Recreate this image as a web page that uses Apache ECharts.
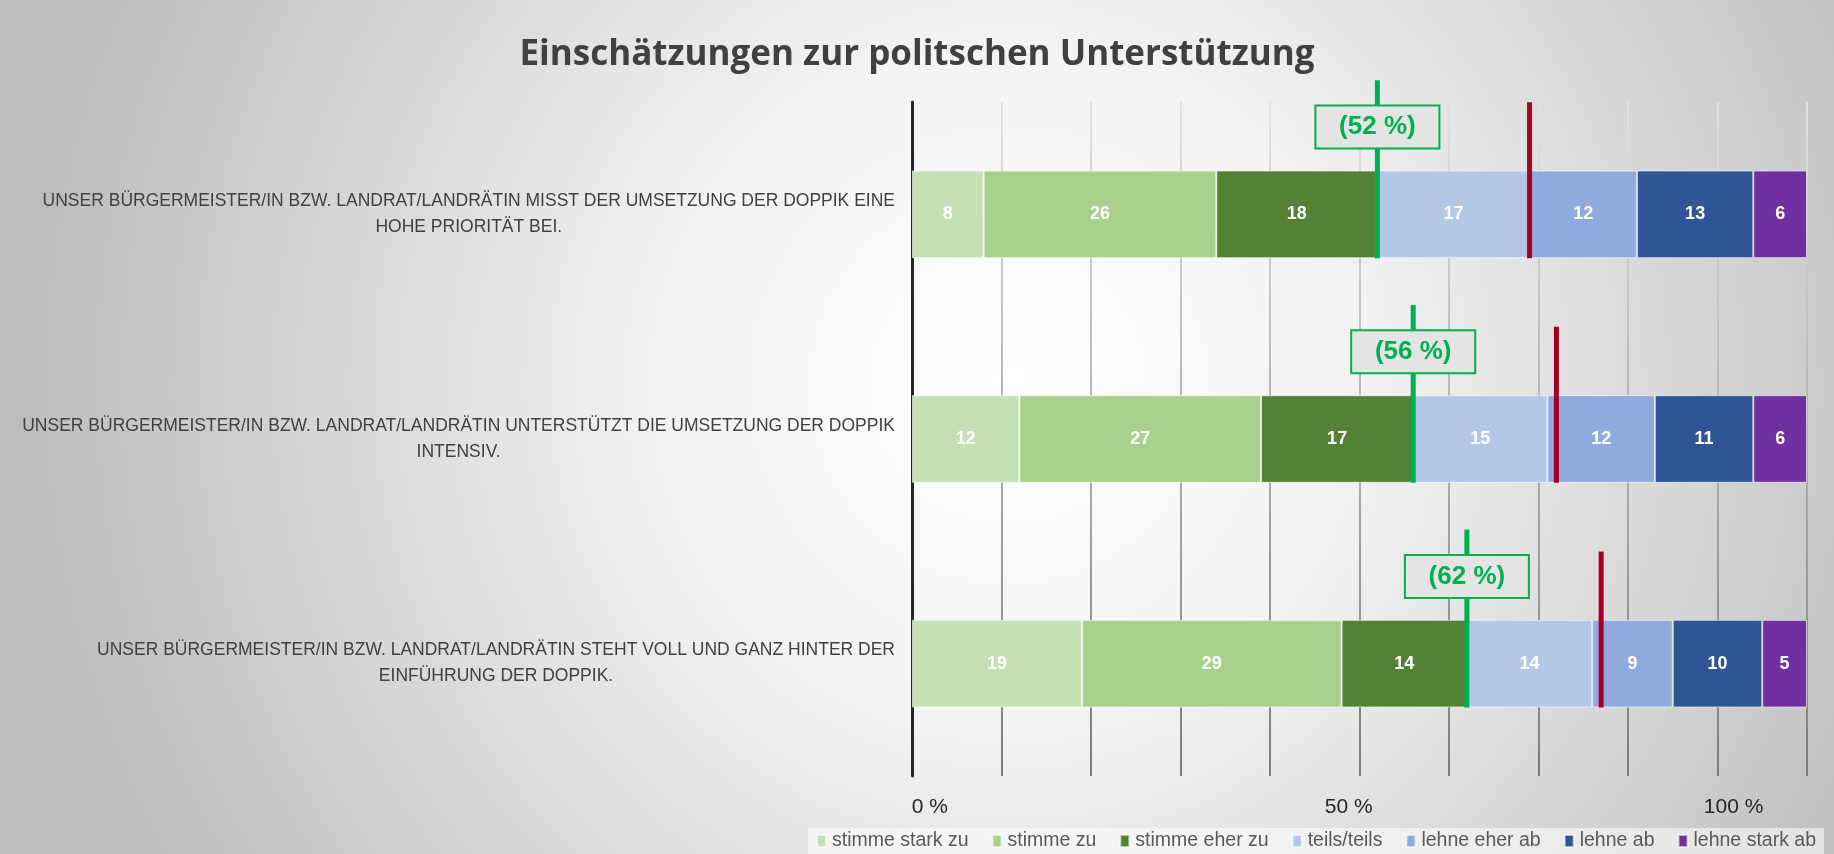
<!DOCTYPE html>
<html>
<head>
<meta charset="utf-8">
<script src="https://cdn.jsdelivr.net/npm/echarts@6/dist/echarts.min.js"></script>
<style>
html,body{margin:0;padding:0;background:#fff;}
#chart{position:absolute;left:0;top:0;width:1834px;height:854px;}
</style>
</head>
<body>
<div id="chart"></div>
<script>
const categories = [
  'UNSER BÜRGERMEISTER/IN BZW. LANDRAT/LANDRÄTIN MISST DER UMSETZUNG DER DOPPIK EINE\nHOHE PRIORITÄT BEI.',
  'UNSER BÜRGERMEISTER/IN BZW. LANDRAT/LANDRÄTIN UNTERSTÜTZT DIE UMSETZUNG DER DOPPIK\nINTENSIV.',
  'UNSER BÜRGERMEISTER/IN BZW. LANDRAT/LANDRÄTIN STEHT VOLL UND GANZ HINTER DER\nEINFÜHRUNG DER DOPPIK.'
];
const seriesNames = ['stimme stark zu', 'stimme zu', 'stimme eher zu', 'teils/teils', 'lehne eher ab', 'lehne ab', 'lehne stark ab'];
const stimmeStarkZu = [8, 12, 19];
const stimmeZu = [26, 27, 29];
const stimmeEherZu = [18, 17, 14];
const teilsTeils = [17, 15, 14];
const lehneEherAb = [12, 12, 9];
const lehneAb = [13, 11, 10];
const lehneStarkAb = [6, 6, 5];
const zustimmungGesamt = [52, 56, 62];
const roteMarke = [69, 72, 77];
const xTickLabels = ['0 %', '50 %', '100 %'];

const values = [stimmeStarkZu, stimmeZu, stimmeEherZu, teilsTeils, lehneEherAb, lehneAb, lehneStarkAb];
const colors = ['#c5e0b4', '#a9d18e', '#548235', '#b4c7e7', '#8faadc', '#2f5597', '#7030a0'];
const xLabelPos = [2, 48.8, 91.8];
const BAR_RATIO = 0.39;
const FONT = '"Liberation Sans", Arial, sans-serif';

const chart = echarts.init(document.getElementById('chart'));

function barGeom(api) {
  const p = api.coord([api.value(0), api.value(1)]);
  const band = api.size([0, 1])[1];
  const h = band * BAR_RATIO;
  return {x: p[0], top: p[1] - h / 2, bottom: p[1] + h / 2, h: h};
}

function renderGreen(params, api) {
  const g = barGeom(api);
  const boxH = 43, boxW = 124;
  const boxBottom = g.top - g.h * 0.25;
  return {
    type: 'group',
    children: [
      {type: 'line', shape: {x1: g.x, y1: g.top - g.h * 1.03, x2: g.x, y2: g.bottom},
       style: {stroke: '#00b050', lineWidth: 5}},
      {type: 'rect', shape: {x: g.x - boxW / 2, y: boxBottom - boxH, width: boxW, height: boxH},
       style: {fill: '#e4e4e4', stroke: '#00b050', lineWidth: 2}},
      {type: 'text', style: {text: '(' + api.value(0) + ' %)', x: g.x, y: boxBottom - boxH / 2,
        align: 'center', verticalAlign: 'middle', font: 'bold 26px ' + FONT, fill: '#00b050'}}
    ]
  };
}

function renderRed(params, api) {
  const g = barGeom(api);
  return {type: 'line', shape: {x1: g.x, y1: g.top - g.h * 0.78, x2: g.x, y2: g.bottom},
          style: {stroke: '#a50021', lineWidth: 5}};
}

const barSeries = seriesNames.map((name, i) => ({
  name: name,
  type: 'bar',
  stack: 'total',
  barWidth: (BAR_RATIO * 100) + '%',
  data: values[i],
  itemStyle: {color: colors[i], borderColor: 'rgba(255,255,255,0.6)', borderWidth: 1},
  label: {show: true, position: 'inside', color: '#ffffff', fontFamily: FONT, fontWeight: 'bold', fontSize: 18},
  emphasis: {disabled: true},
  z: 2
}));

const option = {
  animation: false,
  backgroundColor: {
    type: 'radial', x: 0.55, y: 0.45, r: 1.15,
    colorStops: [
      {offset: 0, color: '#ffffff'},
      {offset: 0.35, color: '#f3f3f3'},
      {offset: 1, color: '#bdbdbd'}
    ]
  },
  title: {
    text: 'Einschätzungen zur politschen Unterstützung',
    left: 'center', top: 38, padding: 0,
    textStyle: {fontFamily: '"Open Sans", sans-serif', fontWeight: 'bold', fontSize: 35, color: '#404040'}
  },
  legend: {
    data: seriesNames,
    bottom: 0, right: 10,
    icon: 'rect', itemWidth: 9, itemHeight: 12, itemGap: 23,
    padding: [3, 8],
    backgroundColor: 'rgba(255,255,255,0.55)',
    textStyle: {fontFamily: FONT, fontSize: 19.5, color: '#595959', padding: [0, 0, 0, 1]}
  },
  grid: {left: 912, right: 27, top: 102, bottom: 78, containLabel: false},
  xAxis: {
    type: 'value', min: 0, max: 100, interval: 10,
    axisLine: {show: false},
    axisTick: {show: false},
    splitLine: {show: true, lineStyle: {width: 2, color: {
      type: 'linear', x: 0, y: 102, x2: 0, y2: 776, global: true,
      colorStops: [{offset: 0, color: '#e2e2e2'}, {offset: 1, color: '#7c7c7c'}]
    }}},
    axisLabel: {
      customValues: xLabelPos,
      margin: 21,
      fontFamily: FONT, fontSize: 21, color: '#262626',
      formatter: v => xTickLabels[xLabelPos.indexOf(v)] || ''
    }
  },
  yAxis: {
    type: 'category', inverse: true, data: categories,
    axisLine: {show: true, lineStyle: {color: '#262626', width: 3}},
    axisTick: {show: false},
    axisLabel: {
      margin: 17, align: 'right',
      formatter: v => v.split('\n').map(l => '{c|' + l + '}').join('\n'),
      rich: {c: {align: 'center', fontFamily: FONT, fontSize: 17.5, color: '#404040', lineHeight: 26}}
    }
  },
  series: barSeries.concat([
    {type: 'custom', name: 'rot', renderItem: renderRed, encode: {x: 0, y: 1},
     data: roteMarke.map((v, i) => [v, i]), z: 5, silent: true},
    {type: 'custom', name: 'gruen', renderItem: renderGreen, encode: {x: 0, y: 1},
     data: zustimmungGesamt.map((v, i) => [v, i]), z: 6, silent: true}
  ])
};
chart.setOption(option);
</script>
</body>
</html>
